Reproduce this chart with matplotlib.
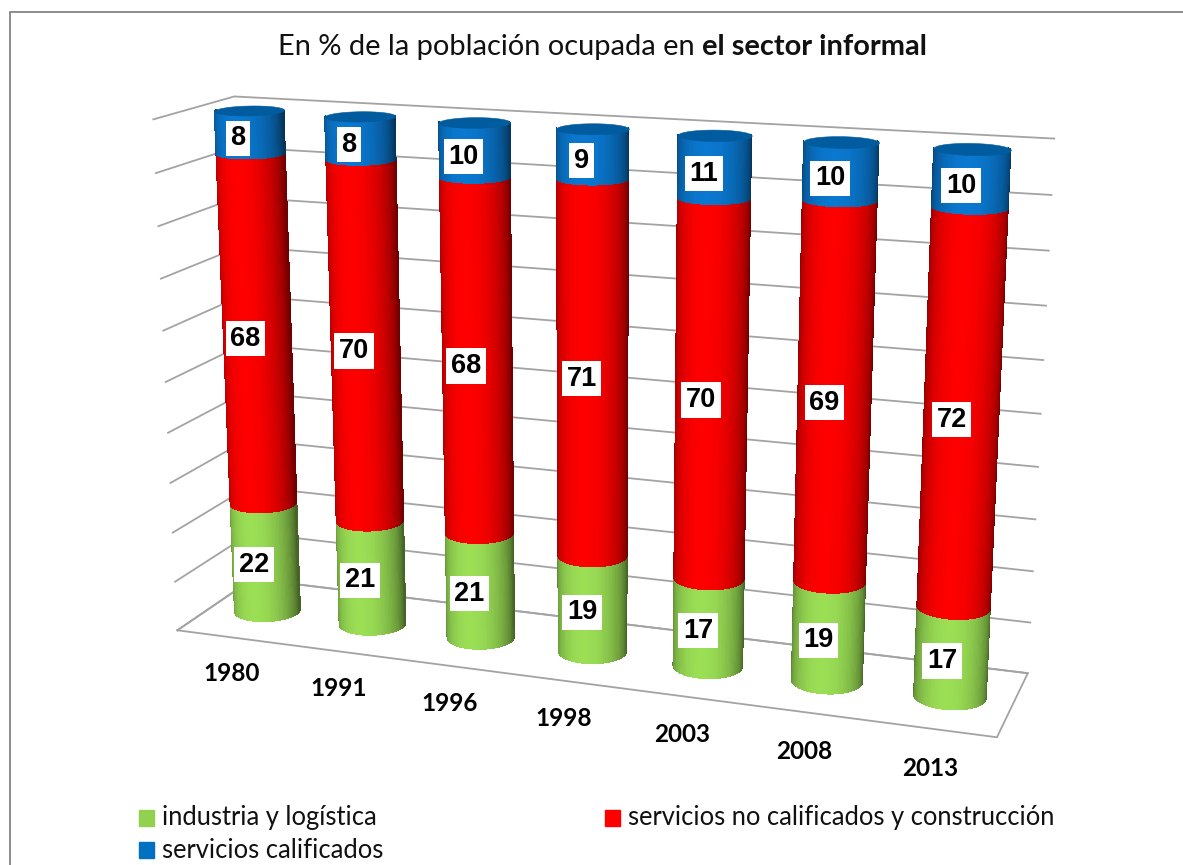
import numpy as np
import matplotlib
matplotlib.use('Agg')
import matplotlib.pyplot as plt
from matplotlib.lines import Line2D
from matplotlib.patches import Rectangle
from mpl_toolkits.mplot3d.art3d import Poly3DCollection

years = ['1980', '1991', '1996', '1998', '2003', '2008', '2013']
industria = [22, 21, 21, 19, 17, 19, 17]
no_calificados = [68, 70, 68, 71, 70, 69, 72]
calificados = [8, 8, 10, 9, 11, 10, 10]

series = [industria, no_calificados, calificados]
colores = ['#9bdf55', '#ff0000', '#0a78d0']
tapa = '#005c9e'
leyenda = ['industria y logística', 'servicios no calificados y construcción', 'servicios calificados']
ley_col = ['#92d050', '#ff0000', '#0070c0']

W, H = 1183, 865
gris = '#a3a3a3'

# camera, same idea as excel rot x / rot y
ELEV, AZIM, FOCAL = 15, -70.7, 0.45
DEPTH = 1.4
ALTO = 4.37
R = 0.285

fig = plt.figure(figsize=(W / 100, H / 100), dpi=100)
ax = fig.add_axes([79 / W, -46 / H, 1000 / W, 1000 / H], projection='3d', computed_zorder=False)
ax.set_box_aspect((7, DEPTH, ALTO), zoom=1.005)
ax.view_init(elev=ELEV, azim=AZIM)
ax.set_proj_type('persp', focal_length=FOCAL)
ax.set_axis_off()
ax.set_xlim(0, 7, view_margin=0)
ax.set_ylim(0, DEPTH, view_margin=0)
ax.set_zlim(0, 100, view_margin=0)

# floor
ax.plot([0, 7, 7, 0, 0], [0, 0, DEPTH, DEPTH, 0], [0, 0, 0, 0, 0], color=gris, lw=1.3, zorder=1)
# walls
for z in range(0, 101, 10):
    ax.plot([0, 0, 7], [0, DEPTH, DEPTH], [z, z, z], color=gris, lw=1.3, zorder=1)


def sombra(delta):
    # bright a bit left of the centre, darker to the edges
    return np.clip(1 - 0.55 * (np.abs(delta + 15) / 90) ** 1.8, 0.45, 1)


delta = np.radians(np.linspace(-100, 100, 81))
fi = delta + np.radians(AZIM)

for i in range(len(years)):
    total = sum(s[i] for s in series)
    cx, cy = i + 0.5, DEPTH / 2
    abajo = 0
    for k, s in enumerate(series):
        arriba = abajo + s[i] / total * 100
        X = np.array([cx + R * np.cos(fi)] * 2)
        Y = np.array([cy + R * np.sin(fi)] * 2)
        Z = np.array([np.full(fi.size, abajo), np.full(fi.size, arriba)])
        rgb = np.array(matplotlib.colors.to_rgb(colores[k]))
        c = np.ones((2, fi.size, 4))
        c[:, :, :3] = rgb[None, None, :] * sombra(np.degrees(delta))[None, :, None]
        # no antialias here, thin strokes between the facets gave a moire
        ax.plot_surface(X, Y, Z, facecolors=c, rstride=1, cstride=1, shade=False,
                        linewidth=0, antialiased=False, zorder=10 + i * 4 + k)
        # label, excel puts them a bit left of the middle
        ax.text(cx - 0.05, cy - 0.12, (abajo + arriba) / 2 - 0.9, str(s[i]), ha='center', va='center',
                fontsize=19.5, fontweight='bold', family='Liberation Sans', color='black',
                bbox=dict(facecolor='white', edgecolor='none', boxstyle='square,pad=0.17'),
                zorder=100)
        abajo = arriba
    # top of the cylinder
    t = np.radians(np.arange(0, 360, 5))
    cap = list(zip(cx + R * np.cos(t), cy + R * np.sin(t), np.full(t.size, abajo)))
    ax.add_collection3d(Poly3DCollection([cap], facecolor=tapa, edgecolor=tapa, linewidth=0.4,
                                         zorder=10 + i * 4 + 3))
    ax.text(i + 0.5, 0, -7.5, years[i], ha='center', va='center', fontsize=17.5,
            fontweight='bold', family='Lato', color='#000000', zorder=100)

# outer frame, top and left only reach the picture
fig.add_artist(Line2D([10 / W, 10 / W, 1], [0, 1 - 12 / H, 1 - 12 / H], color='#8c8c8c', lw=1.4))

# title
t1 = fig.text(278 / W, 1 - 55 / H, 'En % de la población ocupada en ', fontsize=20.9, family='Lato', color='#111111')
plt.annotate('el sector informal', xy=(1, 0), xycoords=t1, va='bottom', ha='left', fontsize=20.9,
             fontweight='bold', family='Lato', color='#111111', annotation_clip=False)

# legend
pos = [(139, 810), (605, 810), (139, 842)]
for (px, py), nom, col in zip(pos, leyenda, ley_col):
    fig.add_artist(Rectangle((px / W, 1 - (py + 16) / H), 15 / W, 16 / H, color=col,
                             transform=fig.transFigure))
    fig.text((px + 23) / W, 1 - (py + 8) / H, nom, fontsize=18.4, family='Lato', va='center', color='#111111')

fig.savefig('out.png', dpi=100)
